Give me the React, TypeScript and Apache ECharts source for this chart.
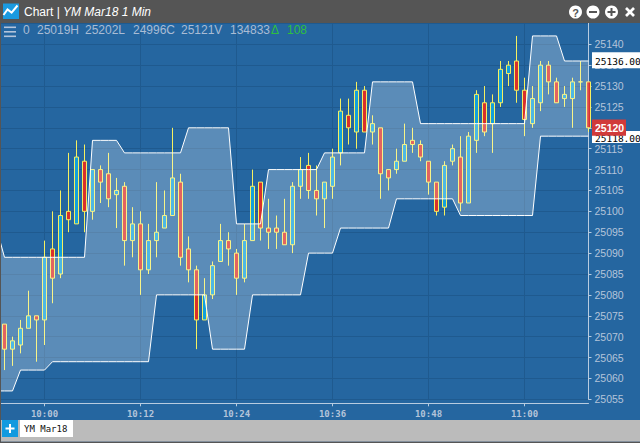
import React, { useEffect, useRef } from "react";
import * as echarts from "echarts";

const categories = [
  "9:54","9:55","9:56","9:57","9:58","9:59","10:00","10:01","10:02","10:03","10:04","10:05","10:06","10:07","10:08",
  "10:09","10:10","10:11","10:12","10:13","10:14","10:15","10:16","10:17","10:18","10:19","10:20","10:21","10:22","10:23",
  "10:24","10:25","10:26","10:27","10:28","10:29","10:30","10:31","10:32","10:33","10:34","10:35","10:36","10:37","10:38",
  "10:39","10:40","10:41","10:42","10:43","10:44","10:45","10:46","10:47","10:48","10:49","10:50","10:51","10:52","10:53",
  "10:54","10:55","10:56","10:57","10:58","10:59","11:00","11:01","11:02","11:03","11:04","11:05","11:06","11:07","11:08",
];
const opens = [null,
  25073,25067,25068,25072,25075,25074,25091,25085,25100,25097,25112,25100,25110,25109,25104,25106,25093,25097,25086,25093,
  25096,25099,25107,25091,25086,25074,25080,25088,25093,25090,25084,25093,25107,25096,25096,25095,25092,25106,25111,25105,
  25103,25106,25114,25123,25119,25129,25119,25120,25110,25110,25112,25117,25116,25112,25107,25101,25112,25113,25102,25117,
  25126,25121,25126,25133,25136,25129,25121,25126,25135,25131,25127,25127,25131,25131];
const closes = [null,
  25067,25069,25072,25075,25074,25089,25084,25099,25098,25113,25100,25110,25107,25103,25105,25093,25097,25086,25093,25095,
  25099,25108,25089,25086,25074,25080,25087,25093,25091,25084,25093,25106,25096,25095,25095,25092,25106,25110,25105,25103,
  25107,25113,25124,25120,25129,25119,25121,25109,25108,25112,25116,25116,25113,25107,25100,25111,25115,25102,25118,25128,
  25119,25126,25134,25135,25129,25122,25127,25135,25131,25126,25128,25131,25131,25120];
const lows = [null,
  25062,25063,25066,25072,25064,25068,25078,25084,25095,25097,25095,25098,25102,25101,25096,25087,25089,25080,25085,25089,
  25096,25099,25087,25083,25067,25074,25079,25088,25087,25080,25083,25093,25093,25091,25091,25092,25090,25103,25103,25099,
  25096,25103,25111,25116,25115,25119,25116,25103,25105,25109,25112,25114,25112,25104,25099,25099,25111,25100,25102,25114,
  25118,25114,25125,25130,25126,25118,25120,25124,25128,25126,25125,25120,25129,25119];
const highs = [null,
  25073,25070,25074,25081,25075,25093,25100,25105,25114,25117,25116,25110,25111,25114,25108,25107,25101,25100,25097,25107,
  25105,25120,25109,25094,25087,25084,25088,25097,25095,25091,25097,25110,25107,25103,25099,25103,25107,25113,25114,25111,
  25107,25115,25127,25127,25131,25130,25123,25120,25110,25115,25121,25120,25117,25112,25107,25112,25116,25118,25119,25129,
  25130,25128,25136,25136,25142,25132,25130,25136,25136,25132,25130,25132,25136,25131];
const upperBand = [25096,
  25089,25089,25089,25089,25089,25089,25089,25089,25089,25089,25089,
  25117,25117,25117,25117,
  25114,25114,25114,25114,25114,25114,25114,25114,
  25120,25120,25120,25120,25120,25120,
  25097,25097,25097,25097,
  25110,25110,25110,25110,25110,25110,25110,
  25114,25114,25114,25114,25114,25114,
  25131,25131,25131,25131,25131,25131,
  25121,25121,25121,25121,25121,25121,25121,25121,25121,25121,25121,25121,25121,25121,
  25142,25142,25142,25142,
  25136,25136,25136,25136];
const lowerBand = [25057,25057,25057,
  25062,25062,25062,25062,
  25064,25064,25064,25064,25064,25064,25064,25064,25064,25064,25064,25064,25064,
  25080,25080,25080,25080,25080,25080,25080,
  25067,25067,25067,25067,25067,
  25080,25080,25080,25080,25080,25080,25080,
  25090,25090,25090,25090,
  25096,25096,25096,25096,25096,25096,25096,
  25103,25103,25103,25103,25103,25103,25103,25103,
  25099,25099,25099,25099,25099,25099,25099,25099,25099,25099,
  25118,25118,25118,25118,25118,25118,25118];
const infoTexts = ["0", "25019H", "25202L", "24996C", "25121V", "134833"];
const infoX = [23, 37, 85, 133, 181, 230];

const LABEL = "#b4c4da";
const GRID = "#1f5a8f";
const MONO = "'DejaVu Sans Mono', monospace";
const SANS = "'Liberation Sans', Arial, sans-serif";
const BLEED = 8; // the chart canvas starts this far left of the page, so the first band segment can start off-page

const everyTwelve = (i: number) => i % 12 === 6;

function buildOption() {
  const candles = categories.map((_, k) =>
    opens[k] == null ? "-" : [opens[k], closes[k], lows[k], highs[k]]
  );
  const bandHeight = upperBand.map((u, k) => u - lowerBand[k]);
  const t = (x: number, y: number, text: string, fill: string, font: Record<string, unknown>) => ({
    type: "text", x, y,
    style: { text, fill, fontFamily: SANS, fontSize: 12, verticalAlign: "middle", ...font },
  });
  const r = (x: number, y: number, width: number, height: number, fill: string) => ({
    type: "rect", shape: { x, y, width, height }, style: { fill },
  });
  const DARK = "#555555";
  const chrome: any[] = [
    r(-BLEED, 0, 648, 23, DARK),
    r(-BLEED, 23, BLEED + 1, 420, DARK),
    r(3, 3.5, 16, 15.5, "#1a9ae0"),
    { type: "polyline", shape: { points: [[3.5, 15], [7.5, 9.5], [11.6, 12.6], [17.5, 5.5]] }, style: { stroke: "#ffffff", lineWidth: 2, fill: "none" } },
    t(24, 12, "Chart |", "#ffffff", { fontSize: 12 }),
    t(63, 12, "YM Mar18 1 Min", "#ffffff", { fontSize: 12, fontStyle: "italic" }),

    { type: "circle", shape: { cx: 575.5, cy: 12, r: 6.5 }, style: { fill: "#ffffff" } },
    t(575.5, 12.5, "?", DARK, { fontSize: 11, fontWeight: "bold", align: "center" }),
    { type: "circle", shape: { cx: 593, cy: 12, r: 6.5 }, style: { fill: "#ffffff" } },
    r(589, 11, 8, 2, DARK),
    { type: "circle", shape: { cx: 611.5, cy: 12, r: 6.5 }, style: { fill: "#ffffff" } },
    r(607.5, 11, 8, 2, DARK),
    r(610.5, 8, 2, 8, DARK),
    { type: "line", shape: { x1: 626, y1: 8, x2: 634, y2: 16 }, style: { stroke: "#ffffff", lineWidth: 2.6 } },
    { type: "line", shape: { x1: 634, y1: 8, x2: 626, y2: 16 }, style: { stroke: "#ffffff", lineWidth: 2.6 } },

    r(4, 26.5, 12, 1.6, LABEL),
    r(4, 31, 12, 1.6, LABEL),
    r(4, 35.5, 12, 1.6, LABEL),
    ...infoTexts.map((s, k) => t(infoX[k], 30, s, "#a9bcd4", { fontSize: 12 })),
    t(271, 30, "\u0394", "#2fbf3f", { fontSize: 12 }),
    t(287, 30, "108", "#2fbf3f", { fontSize: 12 }),

    r(592, 52.3, 48, 16, "#ffffff"),
    t(595, 61.5, "25136.00", "#000000", { fontFamily: MONO, fontSize: 9.5 }),
    r(592, 131, 48, 12, "#ffffff"),
    t(595, 138, "25118.00", "#000000", { fontFamily: MONO, fontSize: 9.5 }),
    r(592, 119.5, 34, 16.3, "#d13a3a"),
    t(595, 128, "25120", "#ffffff", { fontSize: 10.5, fontWeight: "bold" }),

    r(1, 420, 639, 21.7, "#bbbbbb"),
    r(-BLEED, 441.7, 648, 1.3, DARK),
    r(2, 420, 16, 17, "#129adf"),
    r(5.5, 427.5, 9, 2, "#ffffff"),
    r(9, 424, 2, 9, "#ffffff"),
    r(20, 420, 53, 17, "#ffffff"),
    t(24, 428.5, "YM Mar18", "#111111", { fontFamily: MONO, fontSize: 9 }),
  ];
  return {
    animation: false,
    backgroundColor: "#2566a0",
    grid: { left: BLEED - 3.5, right: 51.5, top: 23.4, bottom: 43.7, containLabel: false },
    xAxis: {
      type: "category",
      data: categories,
      boundaryGap: false,
      offset: 4,
      axisLine: { show: true, onZero: false, lineStyle: { color: "#b8cce0", width: 1 } },
      axisTick: { show: true, interval: everyTwelve, length: 3, lineStyle: { color: "#b8cce0" } },
      axisLabel: { interval: everyTwelve, margin: 6, color: LABEL, fontFamily: MONO, fontSize: 9, fontWeight: "bold" },
      splitLine: { show: true, interval: everyTwelve, lineStyle: { color: GRID, width: 1 } },
    },
    yAxis: {
      type: "value",
      position: "right",
      min: 25055,
      max: 25145,
      interval: 5,
      axisLine: { show: true, onZero: false, lineStyle: { color: "#b8cce0", width: 1 } },
      axisTick: { show: true, length: 3, lineStyle: { color: "#b8cce0" } },
      axisLabel: {
        margin: 6, color: LABEL, fontFamily: SANS, fontSize: 10.5, showMaxLabel: false,
        formatter: (v: number) => String(v),
      },
      splitLine: { show: true, lineStyle: { color: GRID, width: 1 } },
    },
    series: [
      {
        type: "candlestick",
        data: candles,
        barWidth: 5,
        z: 2,
        itemStyle: {
          color: "#12a0dc", color0: "#d9302c", borderColor: "#f6f060", borderColor0: "#f6f060",
          borderColorDoji: "#f6f060", borderWidth: 1,
        },
      },
      {
        type: "line", data: lowerBand, stack: "band", symbol: "none", z: 3,
        lineStyle: { color: "#ffffff", width: 1 },
      },
      {
        type: "line", data: bandHeight, stack: "band", symbol: "none", z: 3,
        lineStyle: { color: "#ffffff", width: 1 },
        areaStyle: { color: "#ffffff", opacity: 0.25 },
      },
    ],
    graphic: [
      {
        type: "group", z: 100, x: BLEED,
        children: chrome.map((el) => ({ ...el, z: 100, zlevel: 0 })),
      },
    ],
  };
}

export default function App() {
  const ref = useRef<HTMLDivElement>(null);
  useEffect(() => {
    const chart = echarts.init(ref.current as HTMLDivElement, undefined, { renderer: "svg" });
    chart.setOption(buildOption() as any);
    return () => chart.dispose();
  }, []);
  return <div ref={ref} style={{ position: "fixed", left: -BLEED, top: 0, width: 640 + BLEED, height: 443 }} />;
}
